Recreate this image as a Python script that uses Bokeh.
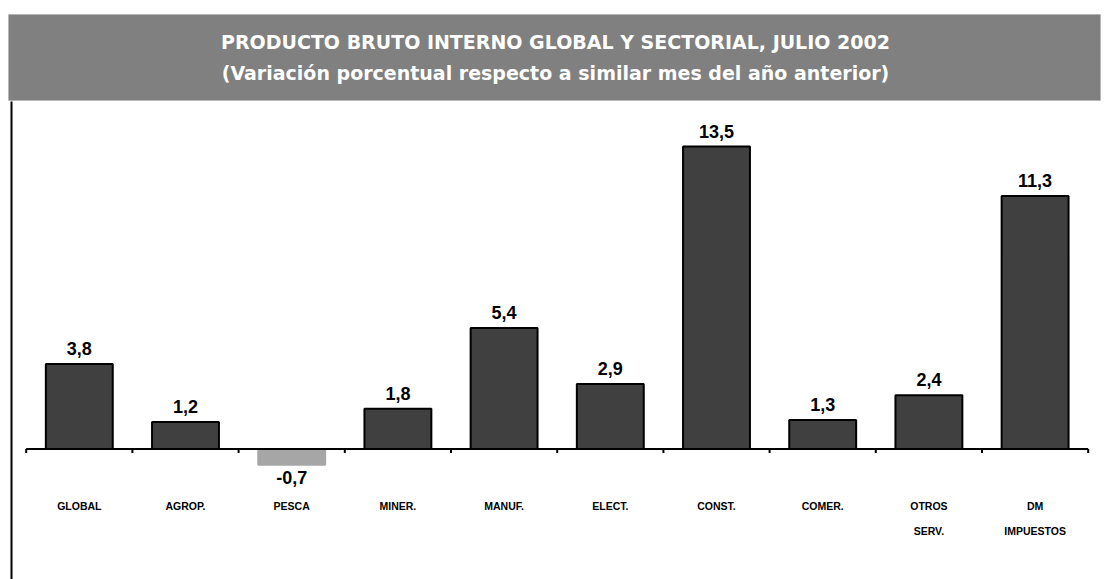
from bokeh.plotting import figure
from bokeh.models import Range1d, BoxAnnotation, Label, ColumnDataSource
from bokeh.core.properties import value
from bokeh.embed import file_html
from bokeh.resources import INLINE

# ---- data ----
categories = ["GLOBAL", "AGROP.", "PESCA", "MINER.", "MANUF.", "ELECT.",
              "CONST.", "COMER.", "OTROS\nSERV.", "DM\nIMPUESTOS"]
values = [3.8, 1.2, -0.7, 1.8, 5.4, 2.9, 13.5, 1.3, 2.4, 11.3]
value_labels = ["3,8", "1,2", "-0,7", "1,8", "5,4", "2,9", "13,5", "1,3", "2,4", "11,3"]
title_line1 = "PRODUCTO BRUTO INTERNO GLOBAL Y SECTORIAL, JULIO 2002"
title_line2 = "(Variación porcentual respecto a similar mes del año anterior)"

W, H = 1109, 579
X0, XS = 25.7, 106.2      # px of first boundary, px per category
Y0, YS = 448.5, 22.4      # px of zero line, px per unit

def dx(px):
    return (px - X0) / XS

def dy(py):
    return (Y0 - py) / YS

p = figure(width=W, height=H, output_backend="svg", toolbar_location=None,
           x_range=Range1d(-X0 / XS, (W - X0) / XS),
           y_range=Range1d(-(H - Y0) / YS, Y0 / YS),
           min_border=0, min_border_left=0, min_border_right=0,
           min_border_top=0, min_border_bottom=0)
p.axis.visible = False
p.grid.visible = False
p.outline_line_color = None
p.background_fill_color = "white"
p.border_fill_color = "white"

n = len(categories)
xs = [i + 0.5 for i in range(n)]
neg_color = "#a6a6a6"
src = ColumnDataSource(dict(x=xs, top=[max(v, 0) for v in values],
                            bottom=[min(v, 0) for v in values],
                            fill=[neg_color if v < 0 else "#404040" for v in values],
                            line=[neg_color if v < 0 else "black" for v in values]))
p.vbar(x="x", width=0.63, top="top", bottom="bottom", fill_color="fill",
       line_color="line", line_width=2, source=src)

# axis line and ticks
p.segment(x0=[0], y0=[0], x1=[n], y1=[0], line_color="black", line_width=2)
p.segment(x0=list(range(n + 1)), y0=[0] * (n + 1), x1=list(range(n + 1)),
          y1=[-4 / YS] * (n + 1), line_color="black", line_width=2)

# left vertical line
p.line([dx(11), dx(11)], [dy(101), dy(600)], line_color="black", line_width=2)

font = value("Liberation Sans")
# value labels
pos_i = [i for i, v in enumerate(values) if v >= 0]
neg_i = [i for i, v in enumerate(values) if v < 0]
p.text(x=[xs[i] for i in pos_i], y=[values[i] for i in pos_i],
       text=[value_labels[i] for i in pos_i], text_align="center",
       text_baseline="bottom", y_offset=-9, text_font=font,
       text_font_size="18px", text_font_style="bold", text_color="black")
p.text(x=[xs[i] for i in neg_i], y=[values[i] for i in neg_i],
       text=[value_labels[i] for i in neg_i], text_align="center",
       text_baseline="top", y_offset=6, text_font=font,
       text_font_size="18px", text_font_style="bold", text_color="black")

# category labels (two lines)
line1 = [c.split("\n")[0] for c in categories]
line2 = [c.split("\n")[1] if "\n" in c else "" for c in categories]
p.text(x=xs, y=[0] * n, text=line1, text_align="center", text_baseline="middle",
       y_offset=57, text_font=font, text_font_size="10.5px",
       text_font_style="bold", text_color="black")
p.text(x=xs, y=[0] * n, text=line2, text_align="center", text_baseline="middle",
       y_offset=82, text_font=font, text_font_size="10.5px",
       text_font_style="bold", text_color="black")

# title band
p.add_layout(BoxAnnotation(left=dx(8), right=dx(1100), top=dy(14), bottom=dy(100),
                           fill_color="#808080", fill_alpha=1, line_color="#a0a0a0",
                           line_width=1))
p.add_layout(Label(x=dx(555), y=dy(41), text=title_line1, text_align="center",
                   text_baseline="middle", text_font="DejaVu Sans",
                   text_font_size="19px", text_font_style="bold", text_color="white"))
p.add_layout(Label(x=dx(555), y=dy(72), text=title_line2, text_align="center",
                   text_baseline="middle", text_font="DejaVu Sans",
                   text_font_size="19px", text_font_style="bold", text_color="white"))

open("out.html", "w").write(file_html(p, INLINE))
